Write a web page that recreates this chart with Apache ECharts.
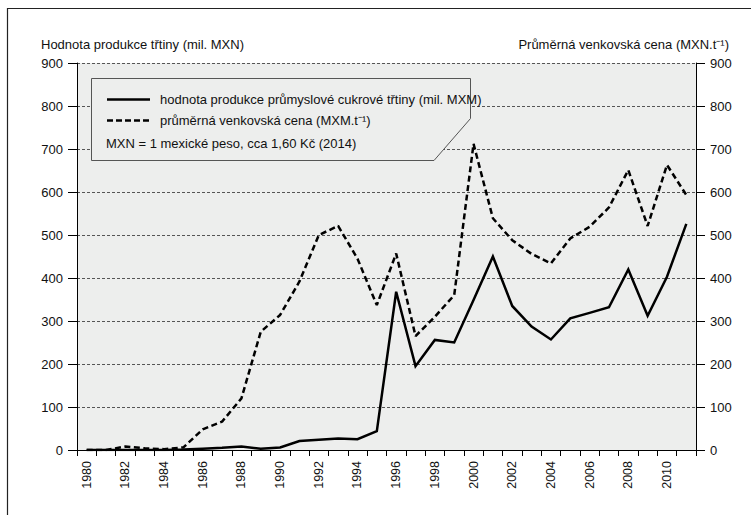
<!DOCTYPE html>
<html>
<head>
<meta charset="utf-8">
<script src="https://cdn.jsdelivr.net/npm/echarts@6/dist/echarts.min.js"></script>
<style>
  html, body { margin: 0; padding: 0; background: #fff; }
  #chart { width: 751px; height: 515px; }
</style>
</head>
<body>
<div id="chart"></div>
<script>
const FONT = "'Liberation Sans', Arial, sans-serif";

const years = [];
for (let y = 1980; y <= 2011; y++) years.push(String(y));

// hodnota produkce průmyslové cukrové třtiny (mil. MXN)
const productionValues = [
  0, 0, 0, 0, 0, 1, 3, 5, 8, 3, 6, 21,
  24, 27, 25, 44, 368, 195, 256, 250, 349, 450,
  335, 287, 257, 306, 319, 332, 420, 312, 403, 526
];

// průměrná venkovská cena (MXN.t-1)
const priceValues = [
  0, 0, 8, 4, 2, 6, 48, 66, 120, 275, 314, 392,
  500, 521, 445, 337, 457, 265, 310, 360, 712, 539,
  488, 456, 434, 492, 519, 564, 651, 521, 663, 593
];

const yTicks = [0, 100, 200, 300, 400, 500, 600, 700, 800, 900];

const leftTitle = "Hodnota produkce třtiny (mil. MXN)";
const rightTitle = "Průměrná venkovská cena (MXN.t⁻¹)";
const legendSolid = "hodnota produkce průmyslové cukrové třtiny (mil. MXM)";
const legendDashed = "průměrná venkovská cena (MXM.t⁻¹)";
const legendNote = "MXN = 1 mexické peso, cca 1,60 Kč (2014)";

const chart = echarts.init(document.getElementById("chart"), null, { renderer: "svg" });

const yAxisBase = {
  type: "value",
  min: yTicks[0],
  max: yTicks[yTicks.length - 1],
  interval: 100,
  axisLine: { show: true, lineStyle: { color: "#000", width: 1 } },
  axisTick: { show: true, length: 9, lineStyle: { color: "#000", width: 1 } },
  axisLabel: { color: "#111", fontSize: 13, fontFamily: FONT, margin: 14 },
};

const options = {
  backgroundColor: "#fff",
  animation: false,
  title: [
    {
      text: leftTitle,
      left: 36,
      top: 33,
      textStyle: { fontSize: 13, fontWeight: "normal", color: "#111", fontFamily: FONT },
    },
    {
      text: rightTitle,
      right: 17,
      top: 33,
      textStyle: { fontSize: 13, fontWeight: "normal", color: "#111", fontFamily: FONT },
    },
  ],
  grid: {
    left: 77,
    right: 55,
    top: 63,
    bottom: 65,
    show: true,
    backgroundColor: "#edeeed",
    borderWidth: 0,
  },
  xAxis: [
    {
      type: "category",
      data: years,
      boundaryGap: true,
      axisLine: { show: false },
      axisTick: { show: true, interval: 0, length: 6, lineStyle: { color: "#000" } },
      axisLabel: {
        interval: 1,
        rotate: 90,
        margin: 11,
        fontSize: 12.5,
        color: "#111",
        fontFamily: FONT,
      },
      splitLine: { show: false },
    },
    {
      type: "category",
      data: years,
      position: "top",
      axisLine: { show: true, lineStyle: { color: "#000", width: 1 } },
      axisTick: { show: false },
      axisLabel: { show: false },
    },
  ],
  yAxis: [
    {
      ...yAxisBase,
      position: "left",
      splitLine: {
        show: true,
        lineStyle: { color: "#555", width: 1, type: [3, 2] },
      },
    },
    {
      ...yAxisBase,
      position: "right",
      splitLine: { show: false },
    },
  ],
  series: [
    {
      name: legendSolid,
      type: "line",
      data: productionValues,
      yAxisIndex: 0,
      symbol: "none",
      lineStyle: { color: "#000", width: 2.5, join: "miter" },
      z: 3,
    },
    {
      name: legendDashed,
      type: "line",
      data: priceValues,
      yAxisIndex: 1,
      symbol: "none",
      lineStyle: { color: "#000", width: 2.5, type: [6, 3.5] },
      z: 3,
    },
  ],
  graphic: [
    // outer frame (top + left)
    {
      type: "polyline",
      shape: { points: [[7.5, 515], [7.5, 8.5], [751, 8.5]] },
      style: { stroke: "#222", lineWidth: 1.2, fill: null },
      silent: true,
    },
    // legend box with cut corner
    {
      type: "polygon",
      shape: {
        points: [[91.5, 78.5], [470.5, 78.5], [470.5, 118.5], [434, 160.5], [91.5, 160.5]],
      },
      style: { fill: "#edeeed", stroke: "#555", lineWidth: 1 },
      z: 10,
    },
    {
      type: "line",
      shape: { x1: 107, y1: 99.5, x2: 150, y2: 99.5 },
      style: { stroke: "#000", lineWidth: 2.5 },
      z: 11,
    },
    {
      type: "line",
      shape: { x1: 107, y1: 120.5, x2: 150, y2: 120.5 },
      style: { stroke: "#000", lineWidth: 2.5, lineDash: [6, 3] },
      z: 11,
    },
    {
      type: "text",
      x: 160,
      y: 99,
      style: { text: legendSolid, fill: "#111", font: "13px " + FONT, verticalAlign: "middle" },
      z: 11,
    },
    {
      type: "text",
      x: 160,
      y: 120,
      style: { text: legendDashed, fill: "#111", font: "13px " + FONT, verticalAlign: "middle" },
      z: 11,
    },
    {
      type: "text",
      x: 106,
      y: 143,
      style: { text: legendNote, fill: "#111", font: "13px " + FONT, verticalAlign: "middle" },
      z: 11,
    },
  ],
};

chart.setOption(options);
</script>
</body>
</html>
